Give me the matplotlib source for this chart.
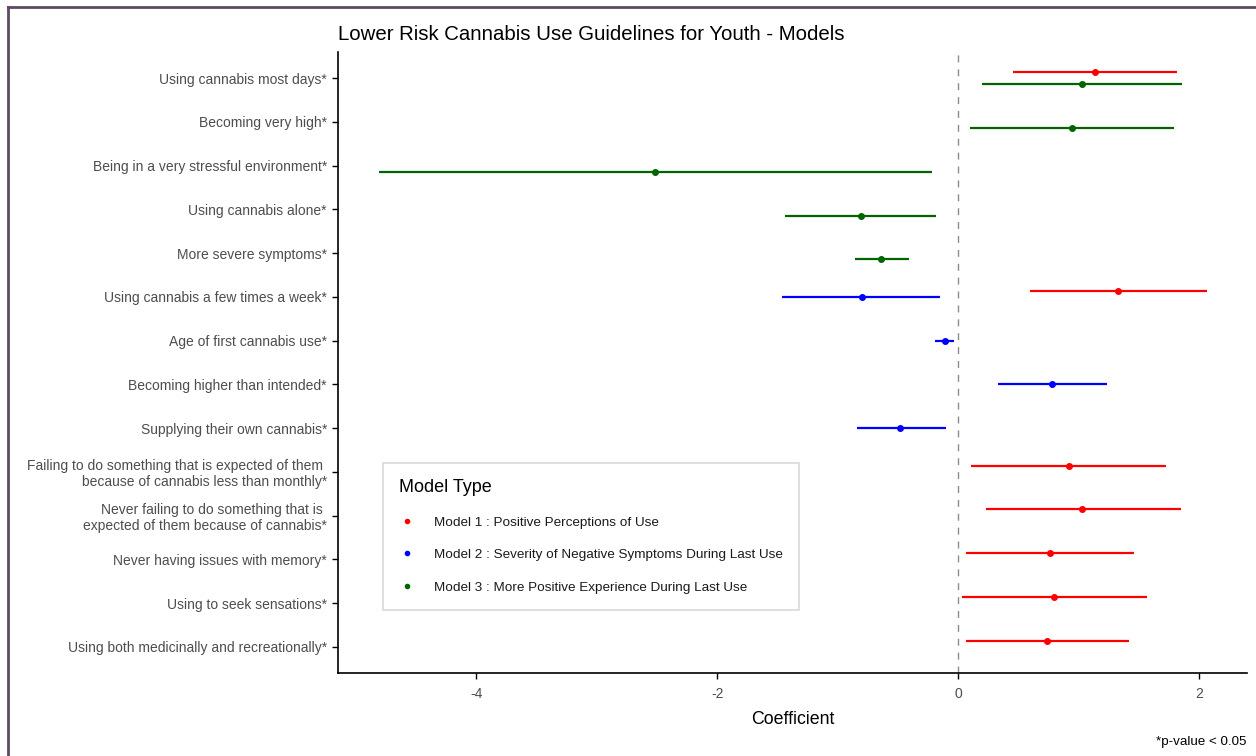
import numpy as np
import matplotlib
matplotlib.use("Agg")
import matplotlib.pyplot as plt
from matplotlib.lines import Line2D

plt.rcParams["font.family"] = ["Liberation Sans", "DejaVu Sans"]

# ---- data (rows listed top to bottom)
categories = [
    "Using cannabis most days*",
    "Becoming very high*",
    "Being in a very stressful environment*",
    "Using cannabis alone*",
    "More severe symptoms*",
    "Using cannabis a few times a week*",
    "Age of first cannabis use*",
    "Becoming higher than intended*",
    "Supplying their own cannabis*",
    "Failing to do something that is expected of them \nbecause of cannabis less than monthly*",
    "Never failing to do something that is \nexpected of them because of cannabis*",
    "Never having issues with memory*",
    "Using to seek sensations*",
    "Using both medicinally and recreationally*",
]
nan = np.nan

m1_est = [1.14, nan, nan, nan, nan, 1.33, nan, nan, nan, 0.92, 1.03, 0.76, 0.80, 0.74]
m1_lo = [0.46, nan, nan, nan, nan, 0.60, nan, nan, nan, 0.11, 0.23, 0.07, 0.03, 0.07]
m1_hi = [1.82, nan, nan, nan, nan, 2.07, nan, nan, nan, 1.73, 1.85, 1.46, 1.57, 1.42]

m2_est = [nan, nan, nan, nan, nan, -0.80, -0.11, 0.78, -0.48, nan, nan, nan, nan, nan]
m2_lo = [nan, nan, nan, nan, nan, -1.46, -0.19, 0.33, -0.84, nan, nan, nan, nan, nan]
m2_hi = [nan, nan, nan, nan, nan, -0.15, -0.03, 1.24, -0.10, nan, nan, nan, nan, nan]

m3_est = [1.03, 0.95, -2.52, -0.81, -0.64, nan, nan, nan, nan, nan, nan, nan, nan, nan]
m3_lo = [0.20, 0.10, -4.81, -1.44, -0.86, nan, nan, nan, nan, nan, nan, nan, nan, nan]
m3_hi = [1.86, 1.79, -0.22, -0.18, -0.41, nan, nan, nan, nan, nan, nan, nan, nan, nan]

model_labels = [
    "Model 1 : Positive Perceptions of Use",
    "Model 2 : Severity of Negative Symptoms During Last Use",
    "Model 3 : More Positive Experience During Last Use",
]
model_colors = ["#ff0000", "#0000ff", "#006400"]
dodge = [-0.14, 0.0, 0.14]

models = [
    (m1_est, m1_lo, m1_hi),
    (m2_est, m2_lo, m2_hi),
    (m3_est, m3_lo, m3_hi),
]

# ---- figure
fig = plt.figure(figsize=(12.56, 7.56), dpi=100)
ax = fig.add_axes([338 / 1256, 1 - 673 / 756, (1247 - 338) / 1256, (673 - 52) / 756])

ypos = np.arange(1, len(categories) + 1)
ax.axvline(0, color="#8c8c8c", lw=1.0, ls=(0, (5, 5)), zorder=1)

for (est, lo, hi), col, off in zip(models, model_colors, dodge):
    est = np.array(est, dtype=float)
    lo = np.array(lo, dtype=float)
    hi = np.array(hi, dtype=float)
    ok = ~np.isnan(est)
    y = ypos[ok] + off
    ax.hlines(y, lo[ok], hi[ok], color=col, lw=1.6, zorder=2)
    ax.plot(est[ok], y, "o", color=col, ms=4, zorder=3)

ax.set_xlim(-5.15, 2.40)
ax.set_ylim(len(categories) + 0.6, 0.4)
ax.set_xticks([-4, -2, 0, 2])
ax.set_xticklabels(["-4", "-2", "0", "2"])
ax.set_yticks(ypos)
ax.set_yticklabels(categories, fontsize=10, color="#4d4d4d", linespacing=1.15)
ax.tick_params(axis="x", labelsize=10, labelcolor="#4d4d4d", length=4, width=1, pad=6)
ax.tick_params(axis="y", length=4, width=1, pad=4)
for lab in ax.get_yticklabels():
    lab.set_horizontalalignment("right")
    lab.set_multialignment("right")

for side in ("top", "right"):
    ax.spines[side].set_visible(False)
for side in ("left", "bottom"):
    ax.spines[side].set_linewidth(1.2)
    ax.spines[side].set_color("black")

ax.set_xlabel("Coefficient", fontsize=12.8, color="black", labelpad=7)
ax.set_title("Lower Risk Cannabis Use Guidelines for Youth - Models",
             fontsize=14.7, loc="left", pad=9)

# legend
handles = [Line2D([], [], ls="none", marker="o", ms=3, color=c) for c in model_colors]
leg = ax.legend(handles, model_labels, title="Model Type", loc="lower left",
                bbox_to_anchor=((383 - 338) / 909, (673 - 610) / 621),
                frameon=True, fancybox=False, edgecolor="#d0d0d0",
                fontsize=9.7, title_fontsize=13, labelspacing=1.5,
                handlelength=1.2, handletextpad=1.4, borderpad=1.2,
                borderaxespad=0)
leg.get_frame().set_linewidth(1.2)
leg._legend_box.align = "left"
for t in leg.get_texts():
    t.set_color("#1a1a1a")

fig.text(1246 / 1256, 1 - 742 / 756, "*p-value < 0.05", ha="right", va="center",
         fontsize=9.6, color="black")

# outer frame along the left and top edges
frame_col = "#5e4a62"
fig.add_artist(Line2D([8 / 1256, 8 / 1256], [0, 1 - 7 / 756], color=frame_col, lw=2,
                      transform=fig.transFigure))
fig.add_artist(Line2D([8 / 1256, 1], [1 - 7 / 756, 1 - 7 / 756], color=frame_col, lw=2,
                      transform=fig.transFigure))

fig.savefig("out.png", dpi=100)
